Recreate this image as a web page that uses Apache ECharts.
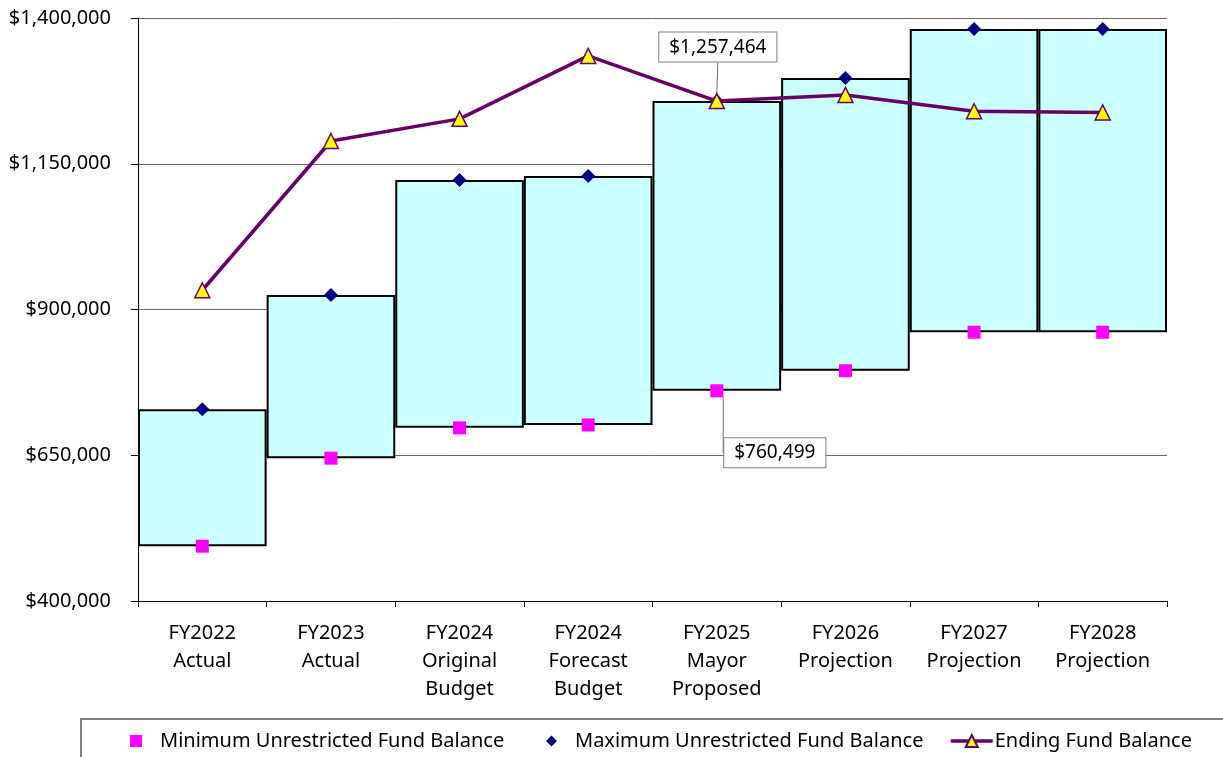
<!DOCTYPE html>
<html>
<head>
<meta charset="utf-8">
<script src="https://cdn.jsdelivr.net/npm/echarts@6/dist/echarts.min.js"></script>
<style>
  html, body { margin: 0; padding: 0; background: #fff; }
  #chart { width: 1223px; height: 757px; }
</style>
</head>
<body>
<div id="chart"></div>
<script>
var categories = ['FY2022\nActual', 'FY2023\nActual', 'FY2024\nOriginal\nBudget', 'FY2024\nForecast\nBudget',
  'FY2025\nMayor\nProposed', 'FY2026\nProjection', 'FY2027\nProjection', 'FY2028\nProjection'];
var minBalance = [494000, 645000, 697000, 702000, 760499, 795000, 861000, 861000];
var maxBalance = [729000, 925000, 1122000, 1129000, 1257464, 1297000, 1381000, 1381000];
var endingBalance = [933000, 1189000, 1227000, 1335000, 1257464, 1268000, 1240000, 1238000];
var yTicks = [400000, 650000, 900000, 1150000, 1400000];

function money(v) {
  return '$' + String(Math.round(v)).replace(/\B(?=(\d{3})+(?!\d))/g, ',');
}

var boxHeight = maxBalance.map(function (v, i) { return v - minBalance[i]; });
var fontName = 'Noto Sans';
var calloutLabel = {
  show: false,
  position: 'inside',
  formatter: function (p) { return money(p.value); },
  backgroundColor: '#fff',
  borderColor: '#808080',
  borderWidth: 1,
  padding: [6, 10, 4, 10],
  fontSize: 19,
  fontFamily: fontName,
  color: '#000'
};
var legendText = { fontSize: 20, color: '#000', fontFamily: fontName };

var chart = echarts.init(document.getElementById('chart'));
var option = {
  animation: false,
  textStyle: { fontFamily: fontName },
  grid: { left: 138, right: 56, top: 18, bottom: 156 },
  graphic: [{
    type: 'rect',
    shape: { x: 81, y: 719, width: 1150, height: 60 },
    style: { fill: 'none', stroke: '#808080', lineWidth: 2 }
  }],
  legend: [
    { data: ['Minimum Unrestricted Fund Balance'], left: 125, top: 726, itemWidth: 12, itemHeight: 12,
      textStyle: Object.assign({ padding: [0, 0, 0, 13] }, legendText) },
    { data: ['Maximum Unrestricted Fund Balance'], left: 541, top: 726, itemWidth: 11, itemHeight: 11,
      textStyle: Object.assign({ padding: [0, 0, 0, 13] }, legendText) },
    { data: ['Ending Fund Balance'], left: 944, top: 726, itemWidth: 42, itemHeight: 15,
      lineStyle: { width: 3.5, color: '#660066' },
      textStyle: Object.assign({ padding: [0, 0, 0, -3] }, legendText) }
  ],
  xAxis: {
    type: 'category',
    data: categories,
    boundaryGap: true,
    axisLine: { lineStyle: { color: '#000', width: 1 } },
    axisTick: { show: true, length: 6, lineStyle: { color: '#000' } },
    axisLabel: { color: '#000', fontSize: 20, lineHeight: 28, margin: 18, interval: 0 }
  },
  yAxis: {
    type: 'value',
    min: yTicks[0],
    max: yTicks[yTicks.length - 1],
    interval: 250000,
    axisLine: { show: true, lineStyle: { color: '#000' } },
    axisTick: { show: true, length: 7, lineStyle: { color: '#000' } },
    axisLabel: { color: '#000', fontSize: 20, margin: 27, formatter: money },
    splitLine: { lineStyle: { color: '#666', width: 1 } }
  },
  series: [
    {
      name: 'base', type: 'bar', stack: 'box', data: minBalance,
      barWidth: '100%', barGap: 0, silent: true,
      itemStyle: { color: 'transparent' }
    },
    {
      name: 'range', type: 'bar', stack: 'box', data: boxHeight,
      barWidth: '100%', barGap: 0, silent: true,
      itemStyle: { color: '#ccffff', borderColor: '#000', borderWidth: 2 }
    },
    {
      name: 'Minimum Unrestricted Fund Balance', type: 'scatter',
      data: minBalance.map(function (v, i) {
        return i === 4 ? { value: v, label: { show: true } } : v;
      }),
      symbol: 'rect', symbolSize: 13, z: 3,
      itemStyle: { color: '#ff00ff', opacity: 1 },
      label: calloutLabel,
      labelLine: { show: true, lineStyle: { color: '#707070', width: 1 } },
      labelLayout: function (p) {
        if (p.dataIndex === 4) return { dx: 58, dy: 62 };
      }
    },
    {
      name: 'Maximum Unrestricted Fund Balance', type: 'scatter', data: maxBalance,
      symbol: 'diamond', symbolSize: 14, z: 3,
      itemStyle: { color: '#000080', opacity: 1 }
    },
    {
      name: 'Ending Fund Balance', type: 'line',
      data: endingBalance.map(function (v, i) {
        return i === 4 ? { value: v, label: { show: true } } : v;
      }),
      symbol: 'triangle', symbolSize: 15, showAllSymbol: true, z: 4,
      lineStyle: { color: '#660066', width: 3.5 },
      itemStyle: { color: '#ffff00', borderColor: '#660066', borderWidth: 1.5 },
      label: calloutLabel,
      labelLine: { show: true, lineStyle: { color: '#707070', width: 1 } },
      labelLayout: function (p) {
        if (p.dataIndex === 4) return { dx: 1, dy: -54 };
      }
    }
  ]
};
chart.setOption(option);
</script>
</body>
</html>
